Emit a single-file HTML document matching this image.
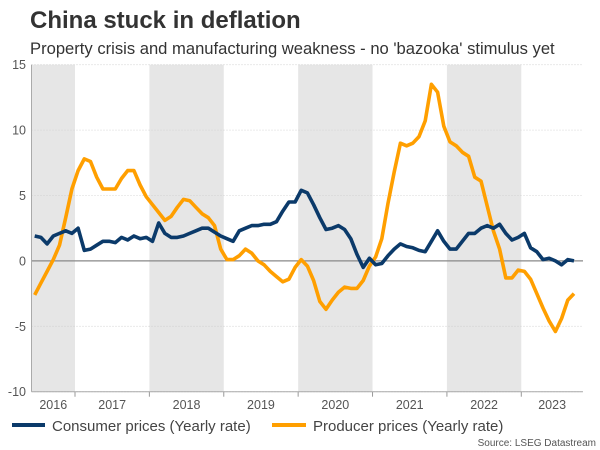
<!DOCTYPE html>
<html><head><meta charset="utf-8"><style>
body{margin:0;background:#fff;font-family:"Liberation Sans",Arial,sans-serif;}
#wrap{position:relative;width:600px;height:450px;overflow:hidden;}
</style></head><body>
<div id="wrap">
<svg id="chart" width="600" height="450" font-family="Liberation Sans, Arial, sans-serif">
<text x="30" y="28" font-size="24" font-weight="bold" fill="#333">China stuck in deflation</text>
<text x="30" y="54" font-size="16.6" fill="#333">Property crisis and manufacturing weakness - no 'bazooka' stimulus yet</text>
<g id="bands"></g><g id="grid"></g><g id="lines"></g><g id="axes"></g>
<g>
<line x1="12" y1="425" x2="45" y2="425" stroke="#0b3a6a" stroke-width="4"/>
<text x="52" y="431" font-size="15" fill="#444">Consumer prices (Yearly rate)</text>
<line x1="272" y1="425" x2="306" y2="425" stroke="#ff9f00" stroke-width="4"/>
<text x="313" y="431" font-size="15" fill="#444">Producer prices (Yearly rate)</text>
</g>
<text x="596" y="446" font-size="10" fill="#555" text-anchor="end">Source: LSEG Datastream</text>
</svg>
</div>
<script>
const years=["2016","2017","2018","2019","2020","2021","2022","2023"];
const yTicks=[15,10,5,0,-5,-10];
// monthly values starting Jun 2016
const cpi=[1.9,1.8,1.3,1.9,2.1,2.3,2.1,
2.5,0.8,0.9,1.2,1.5,1.5,1.4,1.8,1.6,1.9,1.7,1.8,
1.5,2.9,2.1,1.8,1.8,1.9,2.1,2.3,2.5,2.5,2.2,1.9,
1.7,1.5,2.3,2.5,2.7,2.7,2.8,2.8,3.0,3.8,4.5,4.5,
5.4,5.2,4.3,3.3,2.4,2.5,2.7,2.4,1.7,0.5,-0.5,0.2,
-0.3,-0.2,0.4,0.9,1.3,1.1,1.0,0.8,0.7,1.5,2.3,1.5,
0.9,0.9,1.5,2.1,2.1,2.5,2.7,2.5,2.8,2.1,1.6,1.8,
2.1,1.0,0.7,0.1,0.2,0.0,-0.3,0.1,0.0];
const ppi=[-2.6,-1.7,-0.8,0.1,1.2,3.3,5.5,
6.9,7.8,7.6,6.4,5.5,5.5,5.5,6.3,6.9,6.9,5.8,4.9,
4.3,3.7,3.1,3.4,4.1,4.7,4.6,4.1,3.6,3.3,2.7,0.9,
0.1,0.1,0.4,0.9,0.6,0.0,-0.3,-0.8,-1.2,-1.6,-1.4,-0.5,
0.1,-0.4,-1.5,-3.1,-3.7,-3.0,-2.4,-2.0,-2.1,-2.1,-1.5,-0.4,
0.3,1.7,4.4,6.8,9.0,8.8,9.0,9.5,10.7,13.5,12.9,10.3,
9.1,8.8,8.3,8.0,6.4,6.1,4.2,2.3,0.9,-1.3,-1.3,-0.7,
-0.8,-1.4,-2.5,-3.6,-4.6,-5.4,-4.4,-3.0,-2.5];
const startOffset=-7; // Jun 2016 relative to Jan 2017
const L=31.5,R=583,T=64.7,B=391.7,ymin=-10,ymax=15;
const x2017=75,yearW=(521.3-75)/6,monthW=yearW/12;
function xm(i){return x2017+(i+startOffset+0.5)*monthW;}
function xy(yr){return x2017+(yr-2017)*yearW;}
function yv(v){return B-(v-ymin)/(ymax-ymin)*(B-T);}
const NS="http://www.w3.org/2000/svg";
function mk(tag,attrs,parent){const e=document.createElementNS(NS,tag);for(const k in attrs)e.setAttribute(k,attrs[k]);parent.appendChild(e);return e;}
const bands=document.getElementById('bands'),grid=document.getElementById('grid'),lines=document.getElementById('lines'),axes=document.getElementById('axes');
years.forEach((y,i)=>{
 const yr=+y;const a=Math.max(L,xy(yr)),b=Math.min(R,xy(yr+1));
 if(i%2===0){const r=mk('rect',{x:a,y:T,width:b-a,height:B-T,fill:'#e6e6e6'},bands);
 
 }
 const t=mk('text',{x:(a+b)/2,y:409,'font-size':12.5,fill:'#555','text-anchor':'middle'},axes);t.textContent=y;
 
 
 if(i>0){const tk=mk('line',{x1:xy(yr),x2:xy(yr),y1:B,y2:B+5,stroke:'#999'},axes);
 
 }
});
yTicks.forEach(v=>{
 const yy=yv(v);
 const g=mk('line',{x1:L,x2:R,y1:yy,y2:yy,stroke:v===0?'#888':'#ccc','stroke-width':v===0?1.2:0.8,'stroke-dasharray':v===0?'none':'1,2'},grid);
 
 
 const t=mk('text',{x:26,y:yy+4.5,'font-size':12.5,fill:'#555','text-anchor':'end'},axes);t.textContent=v;
 
 
});
const ax=mk('line',{x1:L,x2:L,y1:T,y2:B,stroke:'#aaa'},axes);


const bx=mk('line',{x1:L,x2:R,y1:B,y2:B,stroke:'#aaa'},axes);


function path(arr,col,name){
 const d=arr.map((v,i)=>(i?'L':'M')+xm(i).toFixed(1)+','+yv(v).toFixed(1)).join('');
 const p=mk('path',{d:d,fill:'none',stroke:col,'stroke-width':3.6,'stroke-linejoin':'round'},lines);
 
 
}
path(ppi,'#ff9f00','producer-prices-line');
path(cpi,'#0b3a6a','consumer-prices-line');
</script>
</body></html>
